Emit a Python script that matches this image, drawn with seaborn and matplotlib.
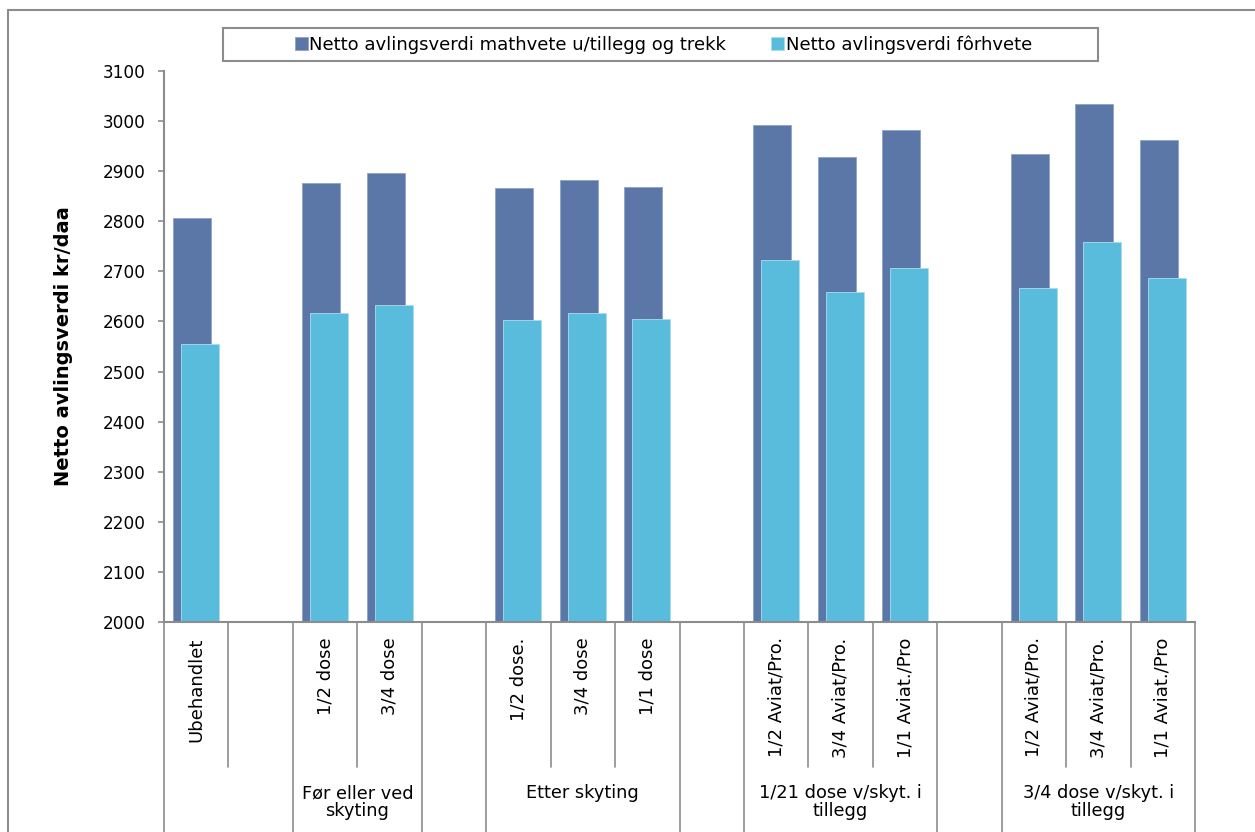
import numpy as np
import pandas as pd
import matplotlib.pyplot as plt
import matplotlib.transforms as mtransforms
from matplotlib.patches import Rectangle
from matplotlib.lines import Line2D
import seaborn as sns

# data
slot_labels = ["Ubehandlet", "", "1/2 dose", "3/4 dose", "", "1/2 dose.", "3/4 dose", "1/1 dose", "",
               "1/2 Aviat/Pro.", "3/4 Aviat/Pro.", "1/1 Aviat./Pro", "",
               "1/2 Aviat/Pro.", "3/4 Aviat/Pro.", "1/1 Aviat./Pro"]
bar_slots = [0, 2, 3, 5, 6, 7, 9, 10, 11, 13, 14, 15]
mathvete = [2806, 2876, 2896, 2866, 2882, 2868, 2992, 2929, 2982, 2934, 3034, 2962]
forhvete = [2555, 2616, 2633, 2602, 2617, 2604, 2722, 2658, 2706, 2666, 2759, 2686]
groups = [("", 0, 1), ("Før eller ved\nskyting", 2, 3), ("", 4, 4), ("Etter skyting", 5, 7),
          ("", 8, 8), ("1/21 dose v/skyt. i\ntillegg", 9, 11), ("", 12, 12),
          ("3/4 dose v/skyt. i\ntillegg", 13, 15)]
series_names = ["Netto avlingsverdi mathvete u/tillegg og trekk", "Netto avlingsverdi fôrhvete"]

dark = "#5B77A8"
light = "#5ABCDC"
grey = "#8C8C8C"

sns.set_style("white")
plt.rcParams['font.family'] = ['DejaVu Sans']
plt.rcParams['text.color'] = 'black'
plt.rcParams['xtick.color'] = 'black'
plt.rcParams['ytick.color'] = 'black'
plt.rcParams['axes.labelcolor'] = 'black'

W, H = 1255, 832
fig = plt.figure(figsize=(W / 100, H / 100), dpi=100)
ax = fig.add_axes([164 / W, 1 - 622 / H, (1195 - 164) / W, (622 - 71) / H])

off = 0.062
df1 = pd.DataFrame({"pos": np.array(bar_slots) - off, "val": mathvete})
df2 = pd.DataFrame({"pos": np.array(bar_slots) + off, "val": forhvete})
sns.barplot(data=df1, x="pos", y="val", native_scale=True, width=0.59, color=dark,
            edgecolor="#8EA3C8", linewidth=0.6, saturation=1, label=series_names[0], ax=ax)
sns.barplot(data=df2, x="pos", y="val", native_scale=True, width=0.59, color=light,
            edgecolor="#A9DDEE", linewidth=0.6, saturation=1, label=series_names[1], ax=ax)

ax.set_xlim(-0.5, len(slot_labels) - 0.5)
ax.set_ylim(2000, 3100)
ax.set_yticks(range(2000, 3101, 100))
ax.set_xticks(range(len(slot_labels)))
ax.set_xticklabels(slot_labels, rotation=90, va="top", ha="center")
ax.tick_params(axis="x", length=0, pad=11, labelsize=13)
ax.tick_params(axis="y", length=4, width=1.2, color=grey, labelcolor="black", pad=9, labelsize=12.2, left=True)
ax.set_xlabel("")
ax.set_ylabel("Netto avlingsverdi kr/daa", fontsize=14, fontweight="bold")
ax.yaxis.set_label_coords(-0.088, 0.5)

for s in ["top", "right"]:
    ax.spines[s].set_visible(False)
for s in ["left", "bottom"]:
    ax.spines[s].set_color(grey)
    ax.spines[s].set_linewidth(1.5)

# category separators
trans = mtransforms.blended_transform_factory(ax.transData, ax.transAxes)
long_edges = set()
for _, a, b in groups:
    long_edges.add(a - 0.5)
    long_edges.add(b + 0.5)
for k in range(len(slot_labels) + 1):
    xe = k - 0.5
    ybot = -0.40 if xe in long_edges else -0.263
    ax.add_line(Line2D([xe, xe], [0, ybot], transform=trans, color=grey, lw=1.2, clip_on=False))

for name, a, b in groups:
    if name:
        ax.text((a + b) / 2, -0.294, name, transform=trans, ha="center", va="top",
                fontsize=12.8, linespacing=1.0)

# legend
leg = ax.legend(loc="center", bbox_to_anchor=(663.5 / W, 1 - 44.5 / H), bbox_transform=fig.transFigure,
                ncol=2, frameon=False, fontsize=13, handlelength=0.7, handleheight=0.7,
                handletextpad=0.1, columnspacing=2.5)
fig.patches.append(Rectangle((223 / W, 1 - 61 / H), (1098 - 223) / W, 33 / H, transform=fig.transFigure,
                             fill=False, edgecolor=grey, lw=1.5))

# outer chart border (cropped)
fig.add_artist(Line2D([8 / W, 8 / W], [0, 1 - 10 / H], transform=fig.transFigure, color=grey, lw=1.5))
fig.add_artist(Line2D([8 / W, 1], [1 - 10 / H, 1 - 10 / H], transform=fig.transFigure, color=grey, lw=1.5))

fig.savefig("out.png", dpi=100)
